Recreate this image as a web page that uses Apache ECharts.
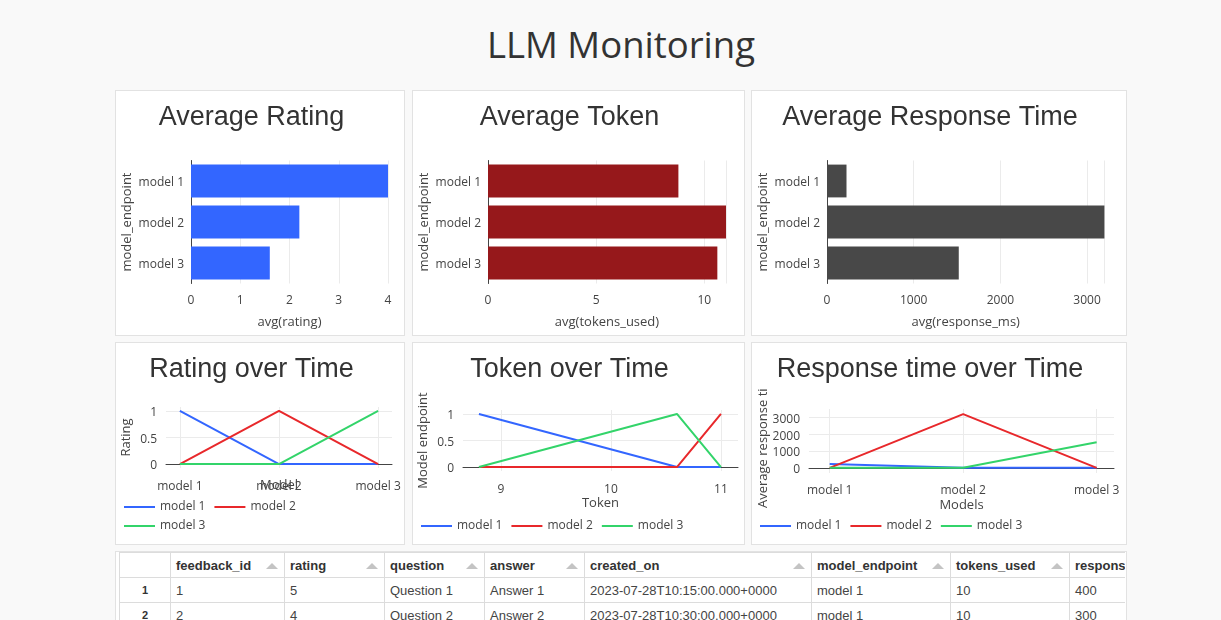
<!DOCTYPE html>
<html>
<head>
<meta charset="utf-8">
<script src="https://cdn.jsdelivr.net/npm/echarts@6/dist/echarts.min.js"></script>
<style>
  html, body { margin:0; padding:0; }
  body { background:#f9f9f9; width:1221px; height:620px; overflow:hidden; position:relative; font-family:"Liberation Sans", Arial, sans-serif; }
  #mainTitle { position:absolute; left:0; width:1242px; top:18px; text-align:center; font-family:"Open Sans", sans-serif; font-size:36.5px; line-height:52px; color:#333; }
  .panel { position:absolute; background:#fff; border:1px solid #e2e2e2; box-sizing:border-box; }
  .chart { position:absolute; left:-1px; top:-1px; }
  #tableBox { position:absolute; left:115px; top:551px; width:1012px; height:90px; background:#fff; border:1px solid #e2e2e2; box-sizing:border-box; overflow:hidden; }
  #tableClip { position:absolute; left:3px; top:0px; width:1006px; height:90px; overflow:hidden; }
  table { border-collapse:collapse; table-layout:fixed; font-family:"Liberation Sans", Arial, sans-serif; }
  th, td { border:1px solid #dcdcdc; padding:0 5px; text-align:left; white-space:nowrap; overflow:hidden; }
  th { height:24px; font-size:13px; font-weight:bold; color:#333; position:relative; }
  td { height:24px; font-size:13px; color:#444; }
  td.rn { text-align:center; font-weight:bold; font-size:11px; color:#333; }
  .arrow { position:absolute; right:6px; top:10px; width:0; height:0; border-left:6px solid transparent; border-right:6px solid transparent; border-bottom:6px solid #c4c4c4; }
</style>
</head>
<body>
<div id="mainTitle">LLM Monitoring</div>

<div class="panel" style="left:115px;top:90px;width:290px;height:246px;"><div class="chart" id="c1" style="width:290px;height:246px;"></div></div>
<div class="panel" style="left:412px;top:90px;width:333px;height:246px;"><div class="chart" id="c2" style="width:333px;height:246px;"></div></div>
<div class="panel" style="left:751px;top:90px;width:376px;height:246px;"><div class="chart" id="c3" style="width:376px;height:246px;"></div></div>
<div class="panel" style="left:115px;top:342px;width:290px;height:203px;"><div class="chart" id="c4" style="width:290px;height:203px;"></div></div>
<div class="panel" style="left:412px;top:342px;width:333px;height:203px;"><div class="chart" id="c5" style="width:333px;height:203px;"></div></div>
<div class="panel" style="left:751px;top:342px;width:376px;height:203px;"><div class="chart" id="c6" style="width:376px;height:203px;"></div></div>

<div id="tableBox"><div id="tableClip"><table id="tbl"></table></div></div>

<script>
// ---------------- data ----------------
const categories = ['model 1', 'model 2', 'model 3'];

const avgRating = [4.0, 2.2, 1.6];
const avgTokens = [8.8, 11.0, 10.6];
const avgResponseMs = [225, 3200, 1520];

const ratingTimeModel1 = [1, 0, 0];
const ratingTimeModel2 = [0, 1, 0];
const ratingTimeModel3 = [0, 0, 1];

const tokenValues = [8.8, 10.6, 11.0];
const tokenTimeModel1 = [1, 0, 0];
const tokenTimeModel2 = [0, 0, 1];
const tokenTimeModel3 = [0, 1, 0];

const respTimeModel1 = [225, 0, 0];
const respTimeModel2 = [0, 3200, 0];
const respTimeModel3 = [0, 0, 1520];

const tableColumns = ['feedback_id', 'rating', 'question', 'answer', 'created_on', 'model_endpoint', 'tokens_used', 'response_ms'];
const tableRow1 = [1, 5, 'Question 1', 'Answer 1', '2023-07-28T10:15:00.000+0000', 'model 1', 10, 400];
const tableRow2 = [2, 4, 'Question 2', 'Answer 2', '2023-07-28T10:30:00.000+0000', 'model 1', 10, 300];
const tableRow3 = [3, 3, 'Question 3', 'Answer 3', '2023-07-28T10:45:00.000+0000', 'model 2', 11, 3200];

// ---------------- styling ----------------
const FONT = '"Open Sans", sans-serif';
const TICK = { color:'#444', fontSize:12, fontFamily:FONT };
const NAME = { color:'#444', fontSize:13, fontFamily:FONT };
const GRIDC = '#ebebeb';
const LINECOLORS = ['#3366ff', '#e8282b', '#33d46a'];
const plain = v => String(v);
// y-axis labels: rich text with a small top padding to sit like the original
const yLabelStyle = (margin) => Object.assign({
  margin:margin,
  formatter: v => '{p|' + String(v) + '}',
  rich:{ p:{ padding:[4, 0, 0, 0], color:'#444', fontSize:12, fontFamily:FONT } }
}, TICK);

function titleText(text, x) {
  return { type:'text', x:x, y:28, silent:true,
    style:{ text:text, fill:'#333', fontSize:27, fontFamily:'"Liberation Sans", Arial, sans-serif',
      align:'center', verticalAlign:'middle', textAlign:'center', textVerticalAlign:'middle' } };
}

function makeBar(id, w, h, title, titleX, plotW, values, color, max, interval, xName) {
  const c = echarts.init(document.getElementById(id), null, { width:w, height:h });
  c.setOption({
    animation:false,
    graphic:[ titleText(title, titleX) ],
    grid:{ left:76, top:70.5, width:plotW, height:123, outerBoundsMode:'none', containLabel:false },
    xAxis:{ type:'value', min:0, max:max, interval:interval,
      axisLine:{ show:false }, axisTick:{ show:false },
      splitLine:{ show:true, showMinLine:false, lineStyle:{ color:GRIDC, width:1 } },
      axisLabel:Object.assign({ margin:11, formatter:plain, showMaxLabel: (max % interval === 0) }, TICK),
      name:xName, nameLocation:'middle', nameGap:32, nameTextStyle:NAME, nameMoveOverlap:false },
    yAxis:{ type:'category', data:categories, inverse:true,
      axisLine:{ show:true, lineStyle:{ color:'#444', width:1 } }, axisTick:{ show:false },
      splitLine:{ show:false },
      axisLabel:yLabelStyle(7),
      name:'model_endpoint', nameLocation:'middle', nameGap:57, nameRotate:90, nameTextStyle:NAME, nameMoveOverlap:false },
    series:[{ type:'bar', data:values, barCategoryGap:'20%', itemStyle:{ color:color } }]
  });
}

function lineSeries(name, xs, ys, color) {
  return { type:'line', name:name, data: xs.map((x, i) => [x, ys[i]]),
    showSymbol:false, symbol:'circle', symbolSize:3, lineStyle:{ width:2, color:color }, itemStyle:{ color:color } };
}

function legendBox(names, top) {
  return { data:names, left:9, top:top, orient:'horizontal', padding:0, itemGap:9,
    itemWidth:31, itemHeight:2, icon:'rect', selectedMode:false,
    textStyle:{ color:'#444', fontSize:12, fontFamily:FONT } };
}

function makeLine(id, w, h, cfg) {
  const c = echarts.init(document.getElementById(id), null, { width:w, height:h });
  const opt = {
    animation:false,
    graphic:[ titleText(cfg.title, cfg.titleX) ].concat(cfg.extraGraphic || []),
    grid:{ left:cfg.grid[0], top:cfg.grid[1], width:cfg.grid[2], height:cfg.grid[3], outerBoundsMode:'none', containLabel:false },
    legend:cfg.legend,
    xAxis:{ type:'value', min:cfg.xMin, max:cfg.xMax, splitNumber:2,
      axisLine:{ show:true, onZero:true, lineStyle:{ color:'#444', width:1 } }, axisTick:{ show:false },
      splitLine:{ show:true, showMinLine:false, showMaxLine:false, lineStyle:{ color:GRIDC, width:1 } },
      axisLabel:Object.assign({ margin:cfg.xLabelMargin, showMinLabel:false, showMaxLabel:false, formatter:cfg.xFormatter }, TICK),
      name:cfg.xName, nameLocation:'middle', nameGap:cfg.xNameGap, nameTextStyle:NAME, nameMoveOverlap:false },
    yAxis:{ type:'value', min:cfg.yMin, max:cfg.yMax, splitNumber:cfg.ySplit,
      axisLine:{ show:false, onZero:false }, axisTick:{ show:false },
      splitLine:{ show:true, showMinLine:false, showMaxLine:false, lineStyle:{ color:GRIDC, width:1 } },
      axisLabel:Object.assign(yLabelStyle(9), { showMinLabel:false, showMaxLabel:false }),
      name:cfg.yName || '', nameLocation:'middle', nameGap:cfg.yNameGap || 33, nameRotate:90, nameTextStyle:NAME, nameMoveOverlap:false },
    series:cfg.series
  };
  c.setOption(opt);
}

// ---------------- bar charts ----------------
makeBar('c1', 290, 246, 'Average Rating', 136.5, 197, avgRating, '#3366ff', 4, 1, 'avg(rating)');
makeBar('c2', 333, 246, 'Average Token', 157.5, 238, avgTokens, '#96181b', 11, 5, 'avg(tokens_used)');
makeBar('c3', 376, 246, 'Average Response Time', 179, 277.4, avgResponseMs, '#484848', 3200, 1000, 'avg(response_ms)');

// ---------------- line charts ----------------
const catIdx = categories.map((_, i) => i);
const catFormatter = v => (Number.isInteger(v) && categories[v]) ? categories[v] : '';

makeLine('c4', 290, 203, {
  title:'Rating over Time', titleX:136.5,
  grid:[51, 65, 226, 61],
  xMin:-0.14, xMax:2.14, xFormatter:catFormatter, xLabelMargin:13, xName:'Model', xNameGap:11,
  yMin:-0.075, yMax:1.075, ySplit:2, yName:'Rating', yNameGap:33,
  legend:[ legendBox(['model 1', 'model 2'], 159), legendBox(['model 3'], 178) ],
  series:[
    lineSeries('model 1', catIdx, ratingTimeModel1, LINECOLORS[0]),
    lineSeries('model 2', catIdx, ratingTimeModel2, LINECOLORS[1]),
    lineSeries('model 3', catIdx, ratingTimeModel3, LINECOLORS[2])
  ]
});

makeLine('c5', 333, 203, {
  title:'Token over Time', titleX:157.5,
  grid:[51, 68, 275, 61],
  xMin:8.655, xMax:11.155, xFormatter:v => (Number.isInteger(v) ? String(v) : ''), xLabelMargin:13, xName:'Token', xNameGap:26,
  yMin:-0.075, yMax:1.075, ySplit:2, yName:'Model endpoint', yNameGap:33,
  legend:[ legendBox(['model 1', 'model 2', 'model 3'], 178) ],
  series:[
    lineSeries('model 1', tokenValues, tokenTimeModel1, LINECOLORS[0]),
    lineSeries('model 2', tokenValues, tokenTimeModel2, LINECOLORS[1]),
    lineSeries('model 3', tokenValues, tokenTimeModel3, LINECOLORS[2])
  ]
});

makeLine('c6', 376, 203, {
  title:'Response time over Time', titleX:179,
  grid:[58, 67, 305, 64],
  xMin:-0.155, xMax:2.13, xFormatter:catFormatter, xLabelMargin:12, xName:'Models', xNameGap:26,
  yMin:-310, yMax:3510, ySplit:4, yName:'', yNameGap:40,
  extraGraphic:[{ type:'text', x:12, y:166, rotation:Math.PI / 2, silent:true,
    style:{ text:'Average response ti', fill:'#444', fontSize:13, fontFamily:FONT,
      align:'left', verticalAlign:'middle', textAlign:'left', textVerticalAlign:'middle' } }],
  legend:[ legendBox(['model 1', 'model 2', 'model 3'], 178) ],
  series:[
    lineSeries('model 1', catIdx, respTimeModel1, LINECOLORS[0]),
    lineSeries('model 2', catIdx, respTimeModel2, LINECOLORS[1]),
    lineSeries('model 3', catIdx, respTimeModel3, LINECOLORS[2])
  ]
});

// ---------------- table ----------------
const colWidths = [51, 114, 100, 100, 100, 227, 139, 119, 110];
(function buildTable() {
  const tbl = document.getElementById('tbl');
  const cg = document.createElement('colgroup');
  colWidths.forEach(wd => { const col = document.createElement('col'); col.style.width = wd + 'px'; cg.appendChild(col); });
  tbl.appendChild(cg);
  tbl.style.width = colWidths.reduce((a, b) => a + b, 0) + 'px';
  const hr = document.createElement('tr');
  hr.appendChild(document.createElement('th'));
  tableColumns.forEach(name => {
    const th = document.createElement('th');
    th.textContent = name;
    const ar = document.createElement('span'); ar.className = 'arrow'; th.appendChild(ar);
    hr.appendChild(th);
  });
  tbl.appendChild(hr);
  [tableRow1, tableRow2, tableRow3].forEach((row, ri) => {
    const tr = document.createElement('tr');
    const rn = document.createElement('td'); rn.className = 'rn'; rn.textContent = String(ri + 1); tr.appendChild(rn);
    row.forEach(v => { const td = document.createElement('td'); td.textContent = String(v); tr.appendChild(td); });
    tbl.appendChild(tr);
  });
})();
</script>
</body>
</html>
